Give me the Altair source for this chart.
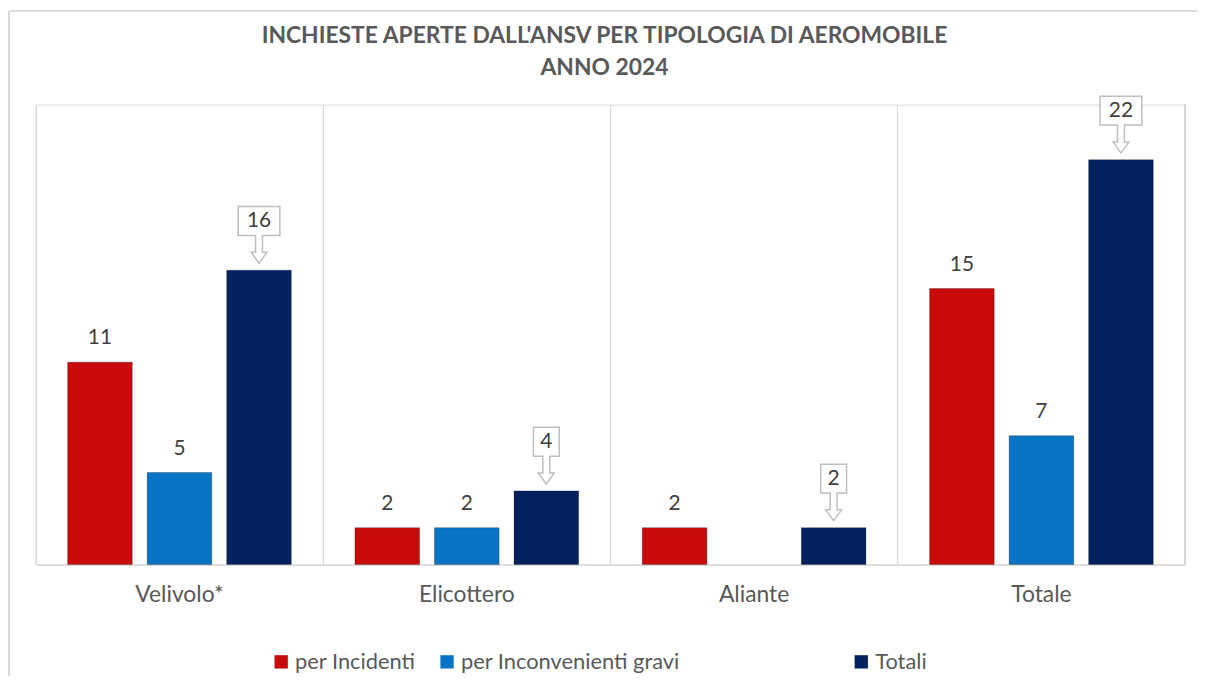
import altair as alt
import pandas as pd

categories = ["Velivolo*", "Elicottero", "Aliante", "Totale"]
series = ["per Incidenti", "per Inconvenienti gravi", "Totali"]
incidenti = [11, 2, 2, 15]
inconvenienti = [5, 2, 0, 7]
totali = [16, 4, 2, 22]
colors = ["#c80a0a", "#0a74c4", "#04215f"]

rows = []
for i, c in enumerate(categories):
    for s, vals in zip(series, [incidenti, inconvenienti, totali]):
        rows.append({"categoria": c, "serie": s, "valore": vals[i]})
df = pd.DataFrame(rows)

W, H = 1157, 463
FONT = "Lato"
GRID = "#d9d9d9"
TXT = "#595959"

x_enc = alt.X(
    "categoria:N", sort=categories,
    scale=alt.Scale(paddingInner=0, paddingOuter=0),
    axis=alt.Axis(title=None, labelFontSize=23, labelColor=TXT, labelFont=FONT,
                  labelAngle=0, ticks=False, tickSize=0, labelPadding=19,
                  domainColor=GRID, domainWidth=1.3, grid=True, gridColor=GRID,
                  gridWidth=1.3, bandPosition=0),
)
y_enc = alt.Y("valore:Q", scale=alt.Scale(domain=[0, 25], nice=False), axis=None)
xo_enc = alt.XOffset("serie:N", sort=series,
                     scale=alt.Scale(domain=series, paddingInner=0.1875, paddingOuter=0.4))

base = alt.Chart(df).encode(x=x_enc, y=y_enc, xOffset=xo_enc)

legend_common = dict(title=None, orient="none", direction="horizontal", legendY=550,
                     symbolType="square", symbolSize=180, symbolStrokeWidth=0,
                     labelFont=FONT, labelFontSize=22, labelColor=TXT,
                     labelOffset=3, labelLimit=400)

bar_style = dict(stroke="black", strokeOpacity=0.25, strokeWidth=1)

bars_a = base.mark_bar(**bar_style).encode(
    color=alt.Color("serie:N", sort=series[:2],
                    scale=alt.Scale(domain=series[:2], range=colors[:2]),
                    legend=alt.Legend(legendX=236, columnPadding=20, **legend_common)),
).transform_filter("datum.valore > 0 && datum.serie != 'Totali'")

bars_b = base.mark_bar(**bar_style).encode(
    color=alt.Color("serie:N",
                    scale=alt.Scale(domain=series[2:], range=colors[2:]),
                    legend=alt.Legend(legendX=820, **legend_common)),
).transform_filter("datum.valore > 0 && datum.serie == 'Totali'")

labels = base.mark_text(baseline="alphabetic", dy=-18, fontSize=21, font=FONT,
                        color="#404040").encode(text="valore:Q").transform_filter(
    "datum.serie != 'Totali' && datum.valore > 0")

path1 = ("M -13 -57 L 13 -57 L 13 -28 L 3.5 -28 L 3.5 -11 L 8 -11 L 0 0 "
         "L -8 -11 L -3.5 -11 L -3.5 -28 L -13 -28 Z")
path2 = ("M -21 -57 L 21 -57 L 21 -28 L 3.5 -28 L 3.5 -11 L 8 -11 L 0 0 "
         "L -8 -11 L -3.5 -11 L -3.5 -28 L -21 -28 Z")

tot = base.transform_filter("datum.serie == 'Totali'").transform_calculate(
    nd="length(toString(datum.valore))")

callouts = tot.mark_point(size=4, filled=True, fill="white", stroke="#bfbfbf",
                          strokeWidth=1.5, opacity=1, yOffset=-7).encode(
    shape=alt.Shape("nd:N", scale=alt.Scale(domain=[1, 2], range=[path1, path2]),
                    legend=None))

callout_text = tot.mark_text(baseline="alphabetic", dy=-43, fontSize=21, font=FONT,
                             color="#404040").encode(text="valore:Q")

right_rule = alt.Chart(df).mark_rule(color=GRID, strokeWidth=1.3).encode(
    x=alt.value(W), y=alt.value(0), y2=alt.value(H))
frame_left = alt.Chart(df).mark_rule(color=GRID, strokeWidth=1.3).encode(
    x=alt.value(-27), y=alt.value(-94), y2=alt.value(600))
frame_top = alt.Chart(df).mark_rule(color=GRID, strokeWidth=1.3).encode(
    x=alt.value(-27), x2=alt.value(1180), y=alt.value(-94))

chart = alt.layer(frame_left, frame_top, right_rule, bars_a, bars_b, labels,
                  callouts, callout_text).resolve_scale(
    color="independent").resolve_legend(color="independent").properties(
    width=W, height=H,
    title=alt.TitleParams(
        ["INCHIESTE APERTE DALL'ANSV PER TIPOLOGIA DI AEROMOBILE", "ANNO 2024"],
        font=FONT, fontSize=23, fontWeight="bold", color=TXT,
        anchor="middle", frame="group", lineHeight=32, offset=0, dy=70, dx=-6),
    autosize=alt.AutoSizeParams(type="none"),
    padding={"left": 28, "top": 95, "right": 12, "bottom": 110},
).configure_view(stroke=None).configure(background="white")

chart.save("out.html", embed_options={"renderer": "svg", "actions": False})
